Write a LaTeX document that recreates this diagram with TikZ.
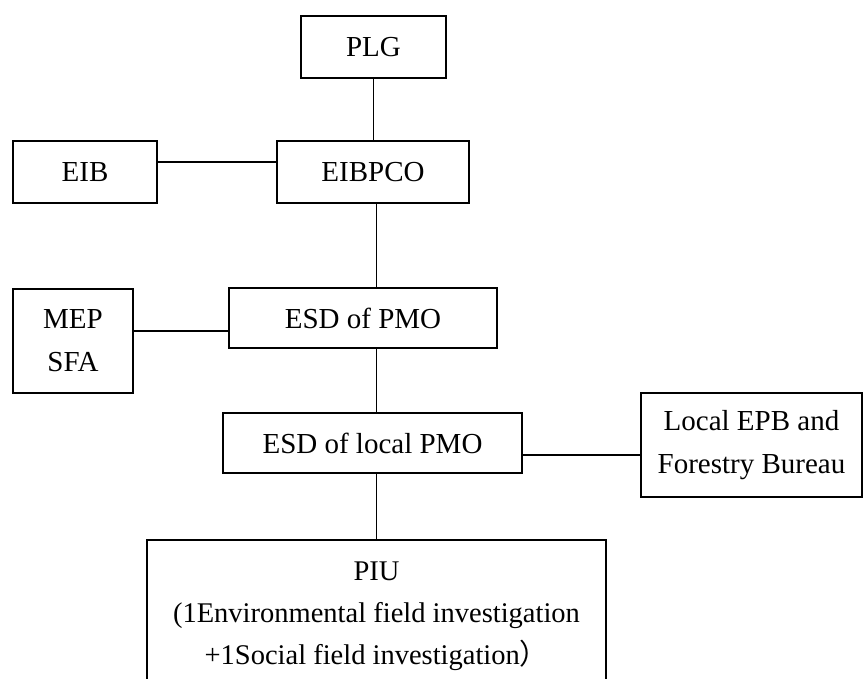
\documentclass[tikz,border=0pt]{standalone}
\usepackage{fontspec}
\setmainfont{Liberation Serif}
\newfontfamily\cjk{Noto Sans CJK SC}
\begin{document}
\begin{tikzpicture}[x=1pt,y=-1pt,
   unit/.style={draw,black,line width=1.5pt,inner sep=0pt,align=center,font=\fontsize{29}{43}\selectfont},
   link/.style={draw,black,line width=1.5pt}]
   \useasboundingbox (0,0) rectangle (863,679);
   \clip (0,0) rectangle (863,679);
   \node[unit,minimum width=145,minimum height=62] (plg) at (373.5,47) {PLG};
   \node[unit,minimum width=144,minimum height=62] (eib) at (85,172) {EIB};
   \node[unit,minimum width=192,minimum height=62] (eibpco) at (373,172) {EIBPCO};
   \node[unit,minimum width=120,minimum height=104] (mep) at (73,341) {MEP\\SFA};
   \node[unit,minimum width=268,minimum height=60] (esdpmo) at (363,318) {ESD of PMO};
   \node[unit,minimum width=299,minimum height=60] (esdlocal) at (372.5,443) {ESD of local PMO};
   \node[unit,minimum width=221,minimum height=104] (epb) at (751.5,445) {Local EPB and\\Forestry Bureau};
   \node[unit,anchor=north,minimum width=459,minimum height=152,font=\fontsize{28.5}{42}\selectfont] (piu) at (376.5,539)
      {PIU\\(1Environmental field investigation\\+1Social field investigation{\cjk ）}};
   \path[link] (plg.south) -- (plg.south |- eibpco.north);
   \path[link] ([yshift=10pt]eib.east) -- ([yshift=10pt]eib.east -| eibpco.west);
   \path[link] (eibpco.south -| piu.north) -- (esdpmo.north -| piu.north);
   \path[link] ([yshift=10pt]mep.east) -- ([yshift=10pt]mep.east -| esdpmo.west);
   \path[link] (esdpmo.south -| piu.north) -- (esdlocal.north -| piu.north);
   \path[link] ([yshift=-12pt]esdlocal.east) -- ([yshift=-12pt]esdlocal.east -| epb.west);
   \path[link] (esdlocal.south -| piu.north) -- (piu.north);
\end{tikzpicture}
\end{document}
